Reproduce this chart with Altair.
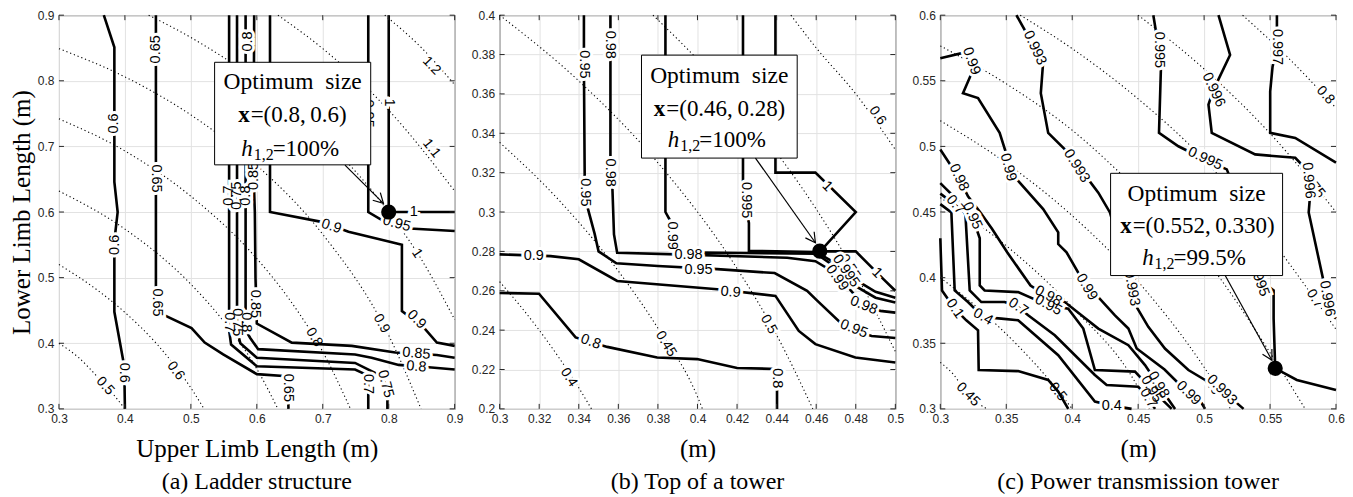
import math
import altair as alt
import pandas as pd

SERIF = "Liberation Serif"
SANS = "Liberation Sans"
INK = "#262626"
GRID = "#e2e2e2"
W, H = 396, 394

# ======================= (a) Ladder structure =======================
A_XDOM = [0.3, 0.9]
A_YDOM = [0.3, 0.9]
A_XTICKS = [0.3, 0.4, 0.5, 0.6, 0.7, 0.8, 0.9]
A_YTICKS = [0.3, 0.4, 0.5, 0.6, 0.7, 0.8, 0.9]
A_SOLID = {
    "0.6": [(0.368, 0.9), (0.384, 0.851), (0.384, 0.646), (0.389, 0.6), (0.385, 0.565), (0.384, 0.532),
            (0.384, 0.448), (0.399, 0.365), (0.4, 0.3)],
    "0.65": [(0.447, 0.9), (0.447, 0.47), (0.453, 0.446), (0.501, 0.423), (0.521, 0.401), (0.549, 0.383),
             (0.6, 0.353), (0.64, 0.35), (0.647, 0.338), (0.648, 0.3)],
    "0.7": [(0.558, 0.9), (0.558, 0.42), (0.561, 0.398), (0.6, 0.365), (0.749, 0.36), (0.764, 0.353),
            (0.769, 0.338), (0.769, 0.3)],
    "0.75": [(0.57, 0.9), (0.57, 0.42), (0.575, 0.4), (0.6, 0.378), (0.749, 0.37), (0.779, 0.355),
             (0.794, 0.34), (0.798, 0.322), (0.798, 0.3)],
    "0.8": [(0.583, 0.9), (0.583, 0.42), (0.59, 0.408), (0.602, 0.391), (0.749, 0.383), (0.774, 0.378),
            (0.815, 0.367), (0.865, 0.363), (0.9, 0.36)],
    "0.85": [(0.596, 0.9), (0.595, 0.66), (0.597, 0.6), (0.598, 0.5), (0.6, 0.43), (0.653, 0.401),
             (0.744, 0.396), (0.81, 0.386), (0.873, 0.382), (0.9, 0.378)],
    "0.9": [(0.62, 0.9), (0.62, 0.6), (0.698, 0.585), (0.739, 0.57), (0.8, 0.555), (0.82, 0.55),
            (0.82, 0.449), (0.853, 0.424), (0.873, 0.401), (0.9, 0.396)],
    "0.95": [(0.769, 0.9), (0.769, 0.6), (0.789, 0.588), (0.832, 0.575), (0.9, 0.571)],
    "1": [(0.8, 0.9), (0.8, 0.6), (0.9, 0.6)],
}
A_SOLID_LABELS = [
    ("0.6", 0.384, 0.735, 270), ("0.6", 0.385, 0.55, 270), ("0.6", 0.398, 0.355, 90),
    ("0.65", 0.447, 0.848, 270), ("0.65", 0.447, 0.651, 90), ("0.65", 0.448, 0.462, 90),
    ("0.65", 0.647, 0.332, 90),
    ("0.7", 0.558, 0.625, 270), ("0.75", 0.57, 0.625, 270), ("0.8", 0.583, 0.625, 270),
    ("0.7", 0.558, 0.432, 90), ("0.75", 0.57, 0.432, 90), ("0.8", 0.583, 0.432, 90),
    ("0.7", 0.769, 0.338, 90), ("0.75", 0.795, 0.338, 75), ("0.8", 0.842, 0.364, 5),
    ("0.8", 0.586, 0.86, 270), ("0.85", 0.595, 0.655, 270), ("0.85", 0.598, 0.46, 90),
    ("0.85", 0.842, 0.384, 5),
    ("0.9", 0.713, 0.578, 18), ("0.9", 0.842, 0.436, 45),
    ("0.95", 0.769, 0.75, 90), ("0.95", 0.812, 0.582, 15),
    ("1", 0.8, 0.767, 90), ("1", 0.838, 0.6, 0),
]
A_DOTTED = {
    "0.5": [(0.3, 0.4), (0.33, 0.378), (0.36, 0.347), (0.38, 0.325), (0.4, 0.3)],
    "0.6": [(0.3, 0.52), (0.35, 0.487), (0.4, 0.447), (0.45, 0.397), (0.5, 0.332), (0.52, 0.3)],
    "0.7": [(0.3, 0.632), (0.4, 0.574), (0.5, 0.49), (0.55, 0.433), (0.6, 0.361), (0.632, 0.3)],
    "0.8": [(0.3, 0.742), (0.4, 0.693), (0.5, 0.624), (0.6, 0.529), (0.65, 0.466), (0.7, 0.387), (0.742, 0.3)],
    "0.9": [(0.3, 0.849), (0.4, 0.806), (0.5, 0.748), (0.6, 0.671), (0.7, 0.566), (0.8, 0.412), (0.849, 0.3)],
    "1": [(0.436, 0.9), (0.5, 0.866), (0.6, 0.8), (0.7, 0.714), (0.8, 0.6), (0.85, 0.527), (0.9, 0.436)],
    "1.1": [(0.632, 0.9), (0.7, 0.849), (0.8, 0.755), (0.9, 0.632)],
    "1.2": [(0.794, 0.9), (0.85, 0.85), (0.9, 0.794)],
}
A_DOTTED_LABELS = [
    ("0.5", 0.37, 0.335, 48), ("0.6", 0.477, 0.358, 53), ("0.8", 0.687, 0.409, 59),
    ("0.9", 0.789, 0.43, 61), ("1", 0.843, 0.537, 57), ("1.1", 0.865, 0.697, 51), ("1.2", 0.865, 0.823, 46),
]
A_BOX = [0.536, 0.7727, 0.6719, 0.8282]
A_TEXT_X = 0.6543
A_TEXT_Y = [0.7979, 0.7478, 0.6962]
A_COORD = "=(0.8,\u20090.6)"
A_PCT = "=100%"
A_ARROW = [(0.7337, 0.6715), (0.792, 0.6132)]
A_DOT = (0.8, 0.6)

# ======================= (b) Top of a tower =======================
B_XDOM = [0.3, 0.5]
B_YDOM = [0.2, 0.4]
B_XTICKS = [0.3, 0.32, 0.34, 0.36, 0.38, 0.4, 0.42, 0.44, 0.46, 0.48, 0.5]
B_YTICKS = [0.2, 0.22, 0.24, 0.26, 0.28, 0.3, 0.32, 0.34, 0.36, 0.38, 0.4]
B_SOLID = {
    "0.95": [(0.3426, 0.4), (0.3426, 0.374), (0.343, 0.317), (0.344, 0.304), (0.348, 0.289), (0.35, 0.28),
             (0.359, 0.274), (0.38, 0.2726), (0.41, 0.271), (0.439, 0.269), (0.4554, 0.26), (0.4605, 0.255),
             (0.472, 0.244), (0.479, 0.24), (0.488, 0.237), (0.5, 0.236)],
    "0.98": [(0.356, 0.4), (0.356, 0.327), (0.357, 0.312), (0.3578, 0.2886), (0.3594, 0.2793),
             (0.3897, 0.2785), (0.4453, 0.2768), (0.4596, 0.275), (0.4706, 0.2684), (0.484, 0.2523),
             (0.4924, 0.2498), (0.5, 0.2489)],
    "0.99": [(0.3838, 0.4), (0.3838, 0.3), (0.3864, 0.2953), (0.388, 0.285), (0.39, 0.2795),
             (0.4234, 0.2792), (0.46, 0.2788), (0.4706, 0.2715), (0.478, 0.2635), (0.49, 0.2565), (0.5, 0.254)],
    "0.995": [(0.423, 0.4), (0.423, 0.307), (0.426, 0.2945), (0.426, 0.2803), (0.46, 0.2797),
              (0.4706, 0.2735), (0.48, 0.2655), (0.49, 0.2595), (0.5, 0.2565)],
    "1": [(0.4394, 0.4), (0.4394, 0.32), (0.4596, 0.32), (0.48, 0.3), (0.462, 0.28), (0.48, 0.28),
          (0.4941, 0.2658), (0.5, 0.26)],
    "0.9": [(0.3, 0.2785), (0.3258, 0.2776), (0.34, 0.276), (0.3594, 0.265), (0.41, 0.2608), (0.4394, 0.2574),
            (0.4512, 0.2396), (0.4596, 0.2329), (0.4798, 0.2261), (0.5, 0.2236)],
    "0.8": [(0.3, 0.2589), (0.3199, 0.2585), (0.3384, 0.2363), (0.3544, 0.2315), (0.3796, 0.2261),
            (0.3998, 0.2253), (0.42, 0.2208), (0.4394, 0.2203), (0.4402, 0.215), (0.4402, 0.2)],
}
B_SOLID_LABELS = [
    ("0.95", 0.3426, 0.375, 90), ("0.95", 0.343, 0.31, 90), ("0.95", 0.4005, 0.2703, 0), ("0.95", 0.479, 0.2405, 22),
    ("0.98", 0.356, 0.385, 90), ("0.98", 0.356, 0.32, 90), ("0.98", 0.3955, 0.2784, 0), ("0.98", 0.484, 0.2525, 22),
    ("0.99", 0.387, 0.288, 90), ("0.99", 0.4705, 0.2665, 55),
    ("0.995", 0.4245, 0.306, 90), ("0.995", 0.475, 0.27, 55),
    ("1", 0.4655, 0.313, 45), ("1", 0.4907, 0.269, 45),
    ("0.9", 0.3173, 0.2778, 0), ("0.9", 0.4167, 0.2592, 5),
    ("0.8", 0.346, 0.234, 20), ("0.8", 0.4402, 0.2155, 90),
]
B_DOTTED = {
    "0.4": [(0.3, 0.2646), (0.31, 0.2528), (0.32, 0.24), (0.33, 0.226), (0.34, 0.2107), (0.3464, 0.2)],
    "0.45": [(0.3, 0.3354), (0.33, 0.306), (0.36, 0.27), (0.38, 0.241), (0.4, 0.2062), (0.4025, 0.2)],
    "0.5": [(0.3, 0.4), (0.34, 0.3666), (0.38, 0.325), (0.42, 0.2713), (0.44, 0.2375), (0.4583, 0.2)],
    "0.55": [(0.3775, 0.4), (0.4, 0.3775), (0.43, 0.343), (0.46, 0.3015), (0.48, 0.2685), (0.5, 0.2291)],
    "0.6": [(0.4472, 0.4), (0.46, 0.3834), (0.48, 0.36), (0.5, 0.3317)],
}
B_DOTTED_LABELS = [
    ("0.4", 0.335, 0.216, 57), ("0.45", 0.384, 0.233, 59), ("0.5", 0.436, 0.243, 61),
    ("0.55", 0.477, 0.272, 58), ("0.6", 0.491, 0.349, 55),
]
B_BOX = [0.3717, 0.4504, 0.3274, 0.3797]
B_TEXT_X = 0.411
B_TEXT_Y = [0.3693, 0.3525, 0.3368]
B_COORD = "=(0.46,\u20090.28)"
B_PCT = "=100%"
B_ARROW = [(0.4293, 0.3274), (0.4596, 0.2844)]
B_DOT = (0.4618, 0.2801)

# ======================= (c) Power transmission tower =======================
C_XDOM = [0.3, 0.6]
C_YDOM = [0.3, 0.6]
C_XTICKS = [0.3, 0.35, 0.4, 0.45, 0.5, 0.55, 0.6]
C_YTICKS = [0.3, 0.35, 0.4, 0.45, 0.5, 0.55, 0.6]
C_SOLID = {
    "0.997": [(0.5552, 0.6), (0.5552, 0.5757), (0.5519, 0.5608), (0.5501, 0.5419), (0.5501, 0.5103),
              (0.5691, 0.5065), (0.6, 0.4876)],
    "0.996": [(0.5109, 0.6), (0.5197, 0.5697), (0.5071, 0.5431), (0.5033, 0.5318), (0.5058, 0.5103),
              (0.5387, 0.4939), (0.5691, 0.4913), (0.578, 0.482), (0.5805, 0.4648), (0.5793, 0.4497),
              (0.5907, 0.3966), (0.5969, 0.3713), (0.6, 0.369)],
    "0.995": [(0.4615, 0.6), (0.4658, 0.5735), (0.4673, 0.5608), (0.4658, 0.5103), (0.4805, 0.5001),
              (0.5007, 0.49), (0.5172, 0.4825), (0.53, 0.45), (0.5413, 0.399), (0.5527, 0.3902),
              (0.5527, 0.3688), (0.5539, 0.3309), (0.5703, 0.322), (0.6, 0.3144)],
    "0.993": [(0.3577, 0.6), (0.3716, 0.575), (0.378, 0.5646), (0.3762, 0.5406), (0.3818, 0.5103),
              (0.3944, 0.4977), (0.4122, 0.4749), (0.4198, 0.4648), (0.4286, 0.4497), (0.437, 0.42),
              (0.4451, 0.3928), (0.4451, 0.384), (0.4577, 0.3625), (0.4703, 0.346), (0.4881, 0.3296),
              (0.5134, 0.3144), (0.5299, 0.3)],
    "0.99": [(0.3, 0.5672), (0.321, 0.5722), (0.3248, 0.5583), (0.3172, 0.5406), (0.3286, 0.5368),
             (0.345, 0.5103), (0.3514, 0.49), (0.3514, 0.4825), (0.3602, 0.4724), (0.378, 0.4522),
             (0.3894, 0.4345), (0.3894, 0.4256), (0.3957, 0.4193), (0.4109, 0.3928), (0.4198, 0.3852),
             (0.4324, 0.3713), (0.4426, 0.3612), (0.4489, 0.346), (0.47, 0.33), (0.4881, 0.3119),
             (0.4982, 0.3043), (0.5007, 0.3)],
    "0.98": [(0.3, 0.4977), (0.314, 0.4762), (0.321, 0.462), (0.3304, 0.4497), (0.3393, 0.437),
             (0.3507, 0.4193), (0.3684, 0.394), (0.3818, 0.3852), (0.3944, 0.3814), (0.4198, 0.3612),
             (0.4426, 0.3485), (0.4552, 0.3334), (0.4653, 0.3182), (0.478, 0.3)],
    "0.95": [(0.3, 0.472), (0.312, 0.46), (0.3241, 0.4471), (0.3299, 0.43), (0.3299, 0.394), (0.3336, 0.3902),
             (0.359, 0.389), (0.3818, 0.3789), (0.397, 0.3763), (0.4084, 0.3612), (0.4172, 0.3296),
             (0.4476, 0.3284), (0.46, 0.315), (0.4754, 0.3)],
    "0.7": [(0.3, 0.464), (0.3114, 0.4555), (0.319, 0.449), (0.3223, 0.3902), (0.3311, 0.3814),
            (0.3488, 0.3814), (0.359, 0.3776), (0.3666, 0.3713), (0.3868, 0.3561), (0.4172, 0.3258),
            (0.4261, 0.3182), (0.4501, 0.3169), (0.4577, 0.3081), (0.4628, 0.3)],
    "0.4": [(0.3, 0.456), (0.3084, 0.4497), (0.3109, 0.3902), (0.321, 0.3814), (0.3324, 0.37),
            (0.3463, 0.3688), (0.359, 0.3675), (0.3894, 0.3409), (0.4172, 0.3056), (0.43, 0.3025), (0.445, 0.3)],
    "0.1": [(0.3, 0.43), (0.3013, 0.3902), (0.3109, 0.3763), (0.3197, 0.3675), (0.3286, 0.3599),
            (0.3291, 0.3296), (0.359, 0.3288), (0.3818, 0.322), (0.3894, 0.3132), (0.397, 0.3)],
}
C_SOLID_LABELS = [
    ("0.997", 0.5552, 0.5757, 90),
    ("0.996", 0.5071, 0.5431, 65), ("0.996", 0.579, 0.474, 85), ("0.996", 0.5932, 0.384, 80),
    ("0.995", 0.4658, 0.5735, 90), ("0.995", 0.5007, 0.4905, 25), ("0.995", 0.5413, 0.399, 70),
    ("0.993", 0.3716, 0.575, 65), ("0.993", 0.4033, 0.485, 58), ("0.993", 0.4451, 0.392, 80),
    ("0.993", 0.5134, 0.3144, 45),
    ("0.99", 0.3235, 0.565, 70), ("0.99", 0.3514, 0.484, 75), ("0.99", 0.4109, 0.3928, 60),
    ("0.99", 0.4881, 0.3119, 45),
    ("0.98", 0.314, 0.4762, 65), ("0.98", 0.3818, 0.386, 28), ("0.98", 0.4653, 0.3182, 60),
    ("0.95", 0.3241, 0.4471, 65), ("0.95", 0.3818, 0.3789, 28), ("0.95", 0.46, 0.315, 60),
    ("0.7", 0.3114, 0.4555, 50), ("0.7", 0.359, 0.3776, 35), ("0.7", 0.4577, 0.3081, 60),
    ("0.4", 0.3324, 0.37, 30), ("0.4", 0.43, 0.3025, 0),
    ("0.1", 0.3109, 0.3763, 55),
]
C_DOTTED = {
    "0.45": [(0.3, 0.3354), (0.31, 0.3262), (0.32, 0.312), (0.3354, 0.3)],
    "0.5": [(0.3, 0.4), (0.33, 0.3756), (0.36, 0.347), (0.39, 0.313), (0.4, 0.3)],
    "0.55": [(0.3, 0.461), (0.35, 0.4243), (0.4, 0.3775), (0.45, 0.3162), (0.4583, 0.3)],
    "0.6": [(0.3, 0.5196), (0.35, 0.4873), (0.4, 0.4472), (0.45, 0.3969), (0.5, 0.3317), (0.52, 0.3)],
    "0.65": [(0.3, 0.5766), (0.35, 0.5477), (0.4, 0.5123), (0.45, 0.4664), (0.5, 0.4153), (0.55, 0.3428),
             (0.5766, 0.3)],
    "0.7": [(0.3606, 0.6), (0.4, 0.5745), (0.45, 0.5362), (0.5, 0.4899), (0.55, 0.4301), (0.6, 0.3606)],
    "0.75": [(0.45, 0.6), (0.5, 0.559), (0.55, 0.5099), (0.6, 0.45)],
    "0.8": [(0.5292, 0.6), (0.56, 0.5713), (0.6, 0.5292)],
}
C_DOTTED_LABELS = [
    ("0.45", 0.321, 0.311, 46), ("0.5", 0.389, 0.313, 52), ("0.6", 0.506, 0.318, 58),
    ("0.7", 0.584, 0.384, 57), ("0.75", 0.583, 0.47, 51), ("0.8", 0.592, 0.539, 48),
]
C_BOX = [0.4291, 0.5595, 0.4016, 0.4795]
C_TEXT_X = 0.4943
C_TEXT_Y = [0.4635, 0.4395, 0.415]
C_COORD = "=(0.552,\u20090.330)"
C_PCT = "=99.5%"
C_ARROW = [(0.516, 0.4016), (0.5514, 0.3371)]
C_DOT = (0.5539, 0.3309)


def lines_df(d):
    rows = []
    for k, pts in d.items():
        for i, (x, y) in enumerate(pts):
            rows.append({"id": k, "i": i, "x": x, "y": y})
    return pd.DataFrame(rows)


def labels_df(lst):
    return pd.DataFrame(lst, columns=["t", "x", "y", "a"])


def panel(xdom, ydom, xticks, yticks, solid, solid_labels, dotted, dotted_labels,
          box, tx, ty, coord, pct, arrow, dot, xtitle, ytitle, subtitle,
          coord_dx, h_dx):
    xs = alt.Scale(domain=xdom, nice=False, zero=False)
    ys = alt.Scale(domain=ydom, nice=False, zero=False)
    xaxis = alt.Axis(values=xticks, format=".2~f", title=xtitle, grid=True, gridColor=GRID, gridWidth=1,
                     ticks=False, domain=False, labelFont=SANS, labelFontSize=12, labelColor=INK,
                     labelPadding=5, labelFlush=False, titleFont=SERIF, titleFontSize=25,
                     titleFontWeight="normal", titleColor="black", titlePadding=12)
    yaxis = alt.Axis(values=yticks, format=".2~f", title=ytitle, grid=True, gridColor=GRID, gridWidth=1,
                     ticks=False, domain=False, labelFont=SANS, labelFontSize=12, labelColor=INK,
                     labelPadding=5, labelFlush=False, titleFont=SERIF, titleFontSize=25,
                     titleFontWeight="normal", titleColor="black", titlePadding=3)
    X = alt.X("x:Q", scale=xs, axis=xaxis)
    Y = alt.Y("y:Q", scale=ys, axis=yaxis)
    A = alt.Angle("a:Q", scale=None)

    dl = alt.Chart(lines_df(dotted)).mark_line(color="black", strokeWidth=1.1, strokeDash=[1.2, 2.8],
                                                interpolate="monotone").encode(
        x=X, y=Y, detail="id:N", order="i:Q")
    dlab = labels_df(dotted_labels)
    dhalo = alt.Chart(dlab).mark_text(font=SANS, fontSize=14, color="white", stroke="white",
                                      strokeWidth=5).encode(x=X, y=Y, text="t:N", angle=A)
    dtext = alt.Chart(dlab).mark_text(font=SANS, fontSize=14, color="black").encode(
        x=X, y=Y, text="t:N", angle=A)

    sl = alt.Chart(lines_df(solid)).mark_line(color="black", strokeWidth=2.6).encode(
        x=X, y=Y, detail="id:N", order="i:Q")
    slab = labels_df(solid_labels)
    shalo = alt.Chart(slab).mark_text(font=SANS, fontSize=14.5, color="white", stroke="white",
                                      strokeWidth=6).encode(x=X, y=Y, text="t:N", angle=A)
    stext = alt.Chart(slab).mark_text(font=SANS, fontSize=14.5, color="black").encode(
        x=X, y=Y, text="t:N", angle=A)

    bx = pd.DataFrame([{"x": box[0], "x2": box[1], "y": box[2], "y2": box[3]}])
    rect = alt.Chart(bx).mark_rect(fill="white", stroke="black", strokeWidth=1).encode(
        x=X, x2="x2:Q", y=Y, y2="y2:Q")

    def txt(s, y, **kw):
        return alt.Chart(pd.DataFrame([{"x": tx, "y": y, "t": s}])).mark_text(
            font=SERIF, color="black", baseline="middle", **kw).encode(x=X, y=Y, text="t:N")

    t1 = txt("Optimum\u2002size", ty[0], fontSize=23.5, align="center")
    t2a = txt("x", ty[1], fontSize=23, fontWeight="bold", align="right", dx=coord_dx)
    t2b = txt(coord, ty[1], fontSize=23, align="left", dx=coord_dx + 1)
    t3a = txt("h", ty[2], fontSize=23, fontStyle="italic", align="right", dx=h_dx)
    t3b = txt("1,2", ty[2], fontSize=16, align="left", dx=h_dx + 1, dy=6)
    t3c = txt(pct, ty[2], fontSize=23, align="left", dx=h_dx + 20)

    adf = pd.DataFrame([{"x": p[0], "y": p[1], "i": i} for i, p in enumerate(arrow)])
    aline = alt.Chart(adf).mark_line(color="black", strokeWidth=1.2).encode(x=X, y=Y, order="i:Q")
    sx = W / (xdom[1] - xdom[0])
    sy = H / (ydom[1] - ydom[0])
    ddx = (arrow[1][0] - arrow[0][0]) * sx
    ddy = -(arrow[1][1] - arrow[0][1]) * sy
    ang = math.degrees(math.atan2(ddx, -ddy)) % 360
    hdf = pd.DataFrame([{"x": arrow[1][0], "y": arrow[1][1], "a": ang}])
    head = alt.Chart(hdf).mark_point(shape="M -0.55 1 L 0 0 L 0.55 1", filled=False, stroke="black",
                                     strokeWidth=1.2, size=380, opacity=1).encode(x=X, y=Y, angle=A)
    ddf = pd.DataFrame([{"x": dot[0], "y": dot[1]}])
    dotm = alt.Chart(ddf).mark_point(shape="circle", filled=True, color="black", size=230,
                                     opacity=1).encode(x=X, y=Y)

    xt = pd.DataFrame({"x": xticks})
    yt = pd.DataFrame({"y": yticks})
    tk = dict(color=INK, strokeWidth=1)
    r1 = alt.Chart(xt).mark_rule(**tk).encode(x=X, y=alt.value(H), y2=alt.value(H - 5))
    r2 = alt.Chart(xt).mark_rule(**tk).encode(x=X, y=alt.value(0), y2=alt.value(5))
    r3 = alt.Chart(yt).mark_rule(**tk).encode(y=Y, x=alt.value(0), x2=alt.value(5))
    r4 = alt.Chart(yt).mark_rule(**tk).encode(y=Y, x=alt.value(W), x2=alt.value(W - 5))

    return alt.layer(dl, dhalo, dtext, sl, shalo, stext, rect, t1, t2a, t2b, t3a, t3b, t3c,
                     aline, head, dotm, r1, r2, r3, r4).properties(
        width=W, height=H,
        title=alt.TitleParams(subtitle, orient="bottom", font=SERIF, fontSize=24, fontWeight="normal",
                              color="black", offset=8))


pa = panel(A_XDOM, A_YDOM, A_XTICKS, A_YTICKS, A_SOLID, A_SOLID_LABELS, A_DOTTED, A_DOTTED_LABELS,
           A_BOX, A_TEXT_X, A_TEXT_Y, A_COORD, A_PCT, A_ARROW, A_DOT,
           "Upper Limb Length (m)", "Lower Limb Length (m)", "(a) Ladder structure", -43, -40)
pb = panel(B_XDOM, B_YDOM, B_XTICKS, B_YTICKS, B_SOLID, B_SOLID_LABELS, B_DOTTED, B_DOTTED_LABELS,
           B_BOX, B_TEXT_X, B_TEXT_Y, B_COORD, B_PCT, B_ARROW, B_DOT,
           "(m)", None, "(b) Top of a tower", -54, -40)
pc = panel(C_XDOM, C_YDOM, C_XTICKS, C_YTICKS, C_SOLID, C_SOLID_LABELS, C_DOTTED, C_DOTTED_LABELS,
           C_BOX, C_TEXT_X, C_TEXT_Y, C_COORD, C_PCT, C_ARROW, C_DOT,
           "(m)", None, "(c) Power transmission tower", -65, -43)

chart = alt.hconcat(pa, pb, pc, spacing=45, bounds="flush").configure_view(
    stroke=INK, strokeWidth=1).properties(padding={"left": 0, "top": 0, "right": 0, "bottom": 0})

chart.save("out.html", embed_options={"renderer": "svg", "actions": False})
